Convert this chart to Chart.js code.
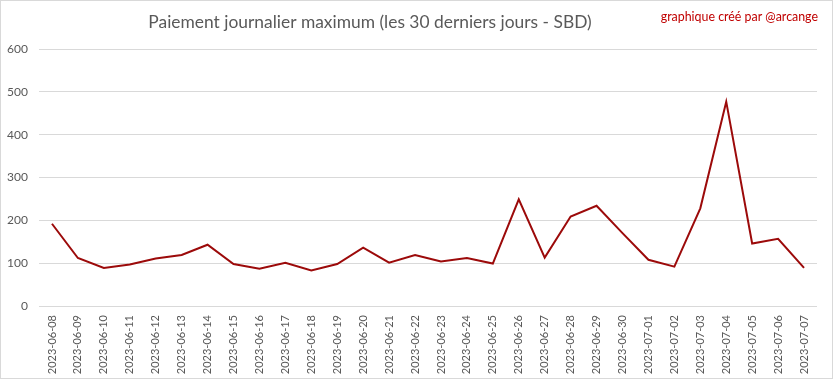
<!DOCTYPE html>
<html><head><meta charset="utf-8">
<script src="https://cdn.jsdelivr.net/npm/chart.js@4/dist/chart.umd.min.js"></script>
<style>html,body{margin:0;padding:0;background:#fff}#w{position:relative;width:833px;height:379px}</style>
</head><body><div id="w"><canvas id="c" width="833" height="379"></canvas></div>
<script>
const categories = ["2023-06-08","2023-06-09","2023-06-10","2023-06-11","2023-06-12","2023-06-13","2023-06-14","2023-06-15","2023-06-16","2023-06-17","2023-06-18","2023-06-19","2023-06-20","2023-06-21","2023-06-22","2023-06-23","2023-06-24","2023-06-25","2023-06-26","2023-06-27","2023-06-28","2023-06-29","2023-06-30","2023-07-01","2023-07-02","2023-07-03","2023-07-04","2023-07-05","2023-07-06","2023-07-07"];
const maxPayout = [192,112,89,97,111,119,143,98,87,101,83,98,136,101,119,104,112,99,249,113,209,234,170,108,92,228,477,146,157,89];
const titleText = "Paiement journalier maximum (les 30 derniers jours - SBD)";
const creditText = "graphique créé par @arcange";

const decor = {
  id: 'decor',
  afterDraw(chart) {
    const ctx = chart.ctx;
    ctx.save();
    ctx.strokeStyle = '#d9d9d9';
    ctx.lineWidth = 1;
    ctx.strokeRect(0.5, 0.5, 832, 378);
    ctx.fillStyle = '#595959';
    ctx.font = '17.4px Lato';
    ctx.textAlign = 'center';
    ctx.textBaseline = 'middle';
    ctx.fillText(titleText, 370, 22);
    ctx.fillStyle = '#c00000';
    ctx.font = '12.4px Lato';
    ctx.textAlign = 'right';
    ctx.fillText(creditText, 818, 17);
    ctx.restore();
  }
};

new Chart(document.getElementById('c'), {
  type: 'line',
  data: {
    labels: categories,
    datasets: [{
      data: maxPayout,
      borderColor: '#9c0a0a',
      borderWidth: 2,
      pointRadius: 0,
      tension: 0,
      fill: false
    }]
  },
  options: {
    responsive: false,
    animation: false,
    layout: { padding: { top: 49, right: 16, bottom: 0, left: 0 } },
    plugins: { legend: { display: false }, title: { display: false }, tooltip: { enabled: false } },
    scales: {
      x: {
        offset: true,
        grid: { display: false, drawTicks: false },
        border: { display: false },
        ticks: { minRotation: 90, maxRotation: 90, autoSkip: false, padding: 9, color: '#595959', font: { family: 'Lato', size: 11 } },
        afterFit(s) { s.height = 73; }
      },
      y: {
        min: 0, max: 600,
        ticks: { stepSize: 100, padding: 11, color: '#595959', font: { family: 'Lato', size: 12 } },
        grid: { color: '#d9d9d9', drawTicks: false },
        border: { display: false },
        afterFit(s) { s.width = 39; }
      }
    }
  },
  plugins: [decor]
});
</script>
</body></html>
